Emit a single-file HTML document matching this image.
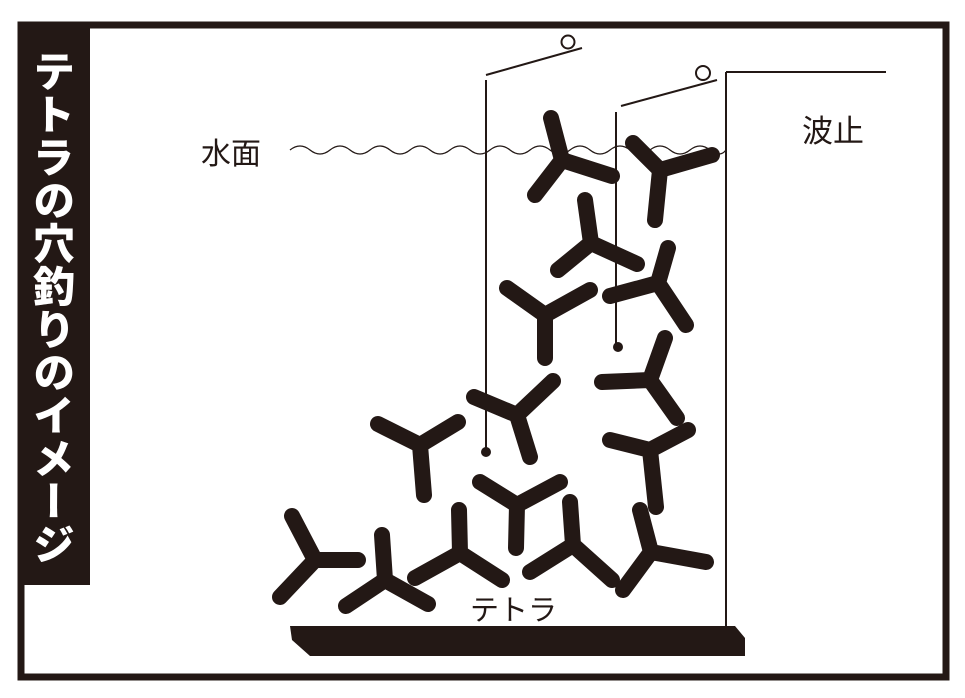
<!DOCTYPE html>
<html><head><meta charset="utf-8"><style>
html,body{margin:0;padding:0;background:#fff;width:965px;height:698px;overflow:hidden}
svg{display:block}
</style></head><body>
<svg width="965" height="698" viewBox="0 0 965 698" xmlns="http://www.w3.org/2000/svg">
<rect x="21" y="25" width="925" height="652" fill="#fff" stroke="#231815" stroke-width="7"/>
<rect x="18" y="22" width="72" height="563" fill="#231815"/>
<text x="54" y="50" fill="#fff" font-family="'Noto Sans CJK JP',sans-serif" font-weight="900" font-size="42" style="writing-mode:vertical-rl;letter-spacing:1px" text-anchor="start">テトラの穴釣りのイメージ</text>
<g fill="none" stroke="#231815" stroke-width="2">
<path d="M290,150 q10,-8 20,0 t20,0 t20,0 t20,0 t20,0 t20,0 t20,0 t20,0 t20,0 t20,0 t20,0 t20,0 t20,0 t20,0 t20,0 t20,0 t20,0 t20,0 t20,0 t20,0 t20,0 t16,0" stroke-width="1.3"/>
<path d="M486,75 L582,48 M486,80 L486,452 M621,106 L717,80 M616,112 L616,347 M726,72 L886,72 M726,72 L726,626"/>
<circle cx="568" cy="42" r="6.5"/>
<circle cx="703" cy="73" r="7"/>
</g>
<circle cx="486" cy="452" r="5" fill="#231815"/>
<circle cx="618" cy="347" r="5" fill="#231815"/>
<polygon points="290,626 735,626 745,638 745,656 310,656 292,640" fill="#231815"/>
<g stroke="#231815" stroke-width="16" stroke-linecap="round" fill="none">
<path d="M562,160L551,118M562,160L535,195M562,160L612,176"/>
<path d="M660,170L633,143M660,170L712,155M660,170L655,220"/>
<path d="M591,243L585,200M591,243L558,270M591,243L637,264"/>
<path d="M545,315L507,288M545,315L590,290M545,315L545,358"/>
<path d="M658,283L668,248M658,283L610,296M658,283L686,325"/>
<path d="M650,380L665,338M650,380L602,382M650,380L677,418"/>
<path d="M517,415L474,397M517,415L553,381M517,415L530,457"/>
<path d="M420,445L378,424M420,445L458,422M420,445L424,495"/>
<path d="M650,450L610,440M650,450L688,430M650,450L656,507"/>
<path d="M517,505L480,482M517,505L560,482M517,505L516,548"/>
<path d="M315,560L292,516M315,560L358,560M315,560L280,597"/>
<path d="M385,580L382,535M385,580L346,606M385,580L428,604"/>
<path d="M460,553L459,510M460,553L415,578M460,553L502,580"/>
<path d="M573,545L570,502M573,545L530,572M573,545L612,580"/>
<path d="M651,552L640,510M651,552L706,562M651,552L623,590"/>
</g>
<g font-family="'Liberation Sans','Noto Sans CJK JP',sans-serif" fill="#231815">
<text x="201" y="164" font-size="30">水面</text>
<text x="802" y="142" font-size="31">波止</text>
<text x="470" y="620" font-size="29">テトラ</text>
</g>
</svg>
</body></html>
